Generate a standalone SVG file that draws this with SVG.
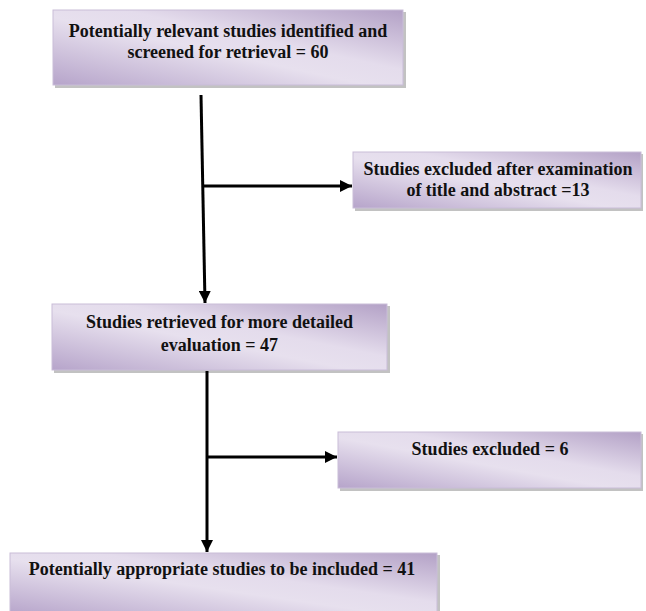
<svg xmlns="http://www.w3.org/2000/svg" width="646" height="611" viewBox="0 0 646 611">
<defs>
<linearGradient id="g" x1="0" y1="1" x2="1" y2="0">
<stop offset="0" stop-color="#b6a4ca"/>
<stop offset="0.45" stop-color="#e7e0ee"/>
<stop offset="0.6" stop-color="#e4dcec"/>
<stop offset="1" stop-color="#b3a1c6"/>
</linearGradient>
<marker id="ah" viewBox="0 0 10 10" refX="10" refY="5" markerWidth="4" markerHeight="4" orient="auto" markerUnits="strokeWidth">
<path d="M0,0 L10,5 L0,10 Z" fill="#000"/>
</marker>
</defs>
<style>
.box{fill:url(#g);stroke:#c9bdd8;stroke-width:1}
.sh{fill:#9a9a9a;opacity:0.6}
.t{font-family:"Liberation Serif","Times New Roman",serif;font-weight:bold;font-size:18px;fill:#111;text-anchor:middle}
.c{stroke:#000;stroke-width:3;fill:none}
</style>
<g id="n1">
<rect class="sh" x="55" y="12" width="351" height="76"/>
<rect class="box" x="53" y="10" width="350" height="75"/>
<text class="t" x="228" y="37">Potentially relevant studies identified and</text>
<text class="t" x="228" y="58">screened for retrieval = 60</text>
</g>
<g id="n2">
<rect class="sh" x="355" y="154" width="288" height="57"/>
<rect class="box" x="353" y="152" width="288" height="56"/>
<text class="t" x="498" y="175">Studies excluded after examination</text>
<text class="t" x="498" y="196">of title and abstract =13</text>
</g>
<g id="n3">
<rect class="sh" x="54" y="306" width="336" height="67"/>
<rect class="box" x="52" y="304" width="335" height="66"/>
<text class="t" x="219.5" y="328">Studies retrieved for more detailed</text>
<text class="t" x="219.5" y="351">evaluation = 47</text>
</g>
<g id="n4">
<rect class="sh" x="340" y="434" width="303" height="57"/>
<rect class="box" x="338" y="432" width="303" height="56"/>
<text class="t" x="490" y="455">Studies excluded = 6</text>
</g>
<g id="n5">
<rect class="sh" x="12" y="555" width="428" height="60"/>
<rect class="box" x="10" y="553" width="427" height="62"/>
<text class="t" x="222" y="575">Potentially appropriate studies to be included = 41</text>
</g>
<g id="connectors">
<line class="c" x1="201" y1="95" x2="205" y2="303" marker-end="url(#ah)"/>
<line class="c" x1="202" y1="186" x2="352" y2="186" marker-end="url(#ah)"/>
<line class="c" x1="207" y1="371" x2="207" y2="552" marker-end="url(#ah)"/>
<line class="c" x1="207" y1="457" x2="337" y2="457" marker-end="url(#ah)"/>
</g>
</svg>
